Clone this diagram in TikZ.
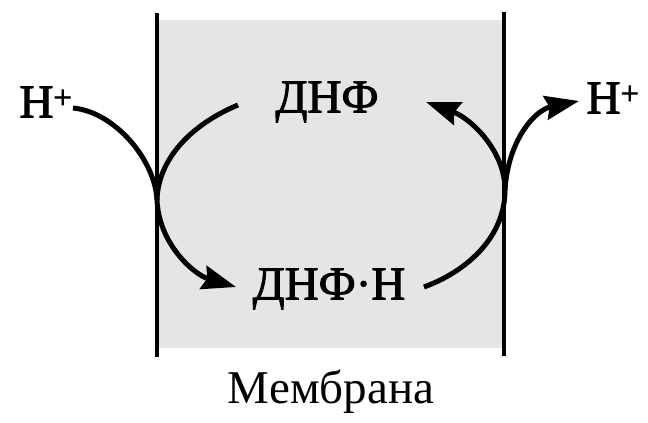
\documentclass[tikz,border=0pt]{standalone}
\usepackage{fontspec}
\setmainfont{Liberation Serif}
\newfontfamily\heavyserif[FakeBold=2]{Liberation Serif}
\usetikzlibrary{arrows.meta}
\begin{document}
\begin{tikzpicture}[x=1pt,y=-1pt,
  lbl/.style={font=\heavyserif\fontsize{47}{50}\selectfont, inner sep=0pt},
  memlbl/.style={font=\fontsize{47}{50}\selectfont, inner sep=0pt},
  flow/.style={line width=5pt},
  flowarr/.style={line width=5pt, -{Stealth[length=34pt,width=24pt,inset=4pt]}},
  memline/.style={line width=3.5pt}]
\useasboundingbox (0,0) rectangle (648,423);
\fill[gray!20] (158,20) rectangle (503,348);
\draw[memline] (157,13) -- (157,357);
\draw[memline] (504,12) -- (504,356);
\node[lbl] (hL) at (46,102) {H\textsuperscript{+}};
\node[lbl] (dnf) at (327,102) {ДНФ};
\node[lbl] (dnfh) at (329,289) {ДНФ·Н};
\node[lbl] (hR) at (613,98) {H\textsuperscript{+}};
\node[memlbl] (mem) at (331,392) {Мембрана};
\coordinate (jL) at (157,200);
\coordinate (jR) at (505,190);
\coordinate (sL) at (73,108);
\coordinate (sD) at (238,105);
\coordinate (tL) at (236,287);
\coordinate (sR) at (424,287);
\coordinate (tD) at (426,102);
\coordinate (tR) at (579,101);
\draw[flow] (sL) .. controls (115,112) and (155,160) .. (jL);
\draw[flow] (sD) .. controls (190,125) and (158,160) .. (jL);
\draw[flowarr] (jL) .. controls (159,245) and (195,275) .. (tL);
\draw[flow] (sR) .. controls (470,270) and (505,235) .. (jR);
\draw[flowarr] (jR) .. controls (505,150) and (470,118) .. (tD);
\draw[flowarr] (jR) .. controls (508,140) and (535,110) .. (tR);
\end{tikzpicture}
\end{document}
